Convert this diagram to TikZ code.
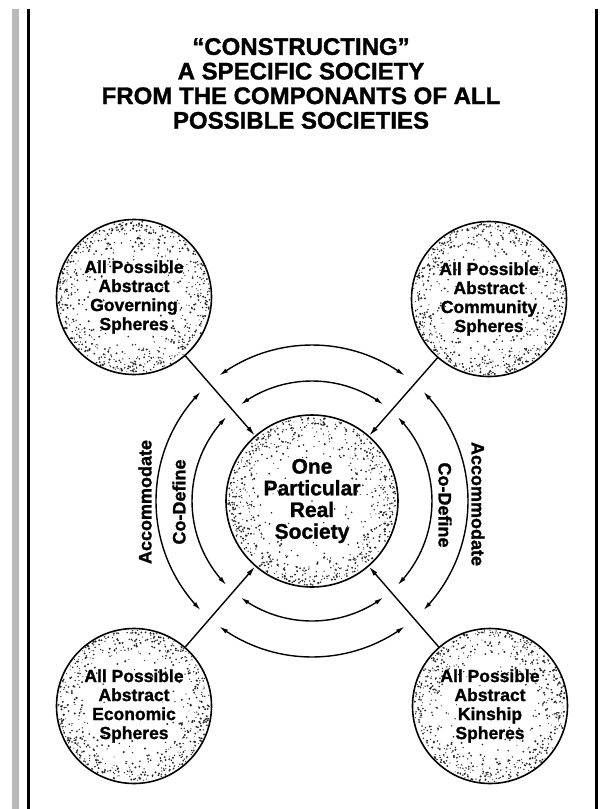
\documentclass[tikz,border=0pt]{standalone}
\usepackage{fontspec}
\setmainfont{Liberation Sans}[BoldFeatures={FakeBold=1.3}]
\usetikzlibrary{arrows.meta,bending}
\newcommand{\mystipple}[4]{%
  \foreach \k in {1,...,#4}{%
    \pgfmathsetmacro\rr{#3*pow(rnd,0.17)}%
    \pgfmathsetmacro\aa{360*rnd}%
    \pgfmathsetmacro\ss{0.5+0.65*rnd}%
    \fill[black!85] (#1,#2) ++(\aa:\rr pt) circle[radius=\ss pt];
  }}
\begin{document}
\begin{tikzpicture}[x=1pt,y=1pt,
  sph/.style={circle, draw, line width=1.6pt, minimum size=155pt, inner sep=0pt, align=center,
    font=\fontsize{17.5}{19}\selectfont\bfseries},
  bigsph/.style={sph, minimum size=172pt, font=\fontsize{21}{21.7}\selectfont\bfseries},
  ttl/.style={align=center, inner sep=0pt, font=\fontsize{24}{24.6}\selectfont\bfseries},
  lbl/.style={inner sep=0pt, font=\fontsize{18}{19}\selectfont\bfseries},
  feed/.style={line width=1.4pt, -{Latex[length=10pt,width=5pt]}},
  dblarc/.style={line width=1.4pt, {Latex[length=9pt,width=4.5pt,flex]}-{Latex[length=9pt,width=4.5pt,flex]}},
  frameline/.style={line width=2.2pt}
]
\useasboundingbox (0,0) rectangle (601,-809);
% frame
\fill[gray!55] (12,-9) rectangle (19,-809);
\draw[frameline] (28.5,-9) -- (28.5,-809);
\draw[frameline] (596.5,-9) -- (596.5,-809);
% title
\node[ttl] (title) at (301,-83.5) {“CONSTRUCTING”\\A SPECIFIC SOCIETY\\FROM THE COMPONANTS OF ALL\\POSSIBLE SOCIETIES};
% stippling
\pgfmathsetseed{4711}
\mystipple{134}{-297}{76}{650}
\mystipple{489}{-299}{76}{650}
\mystipple{134}{-706}{76}{650}
\mystipple{490}{-706}{76}{650}
\mystipple{312}{-501}{84}{780}
% spheres
\node[sph] (G) at (134,-297) {All Possible\\Abstract\\Governing\\Spheres};
\node[sph] (M) at (489,-299) {All Possible\\Abstract\\Community\\Spheres};
\node[sph] (E) at (134,-706) {All Possible\\Abstract\\Economic\\Spheres};
\node[sph] (K) at (490,-706) {All Possible\\Abstract\\Kinship\\Spheres};
\node[bigsph] (C) at (312,-501) {One\\Particular\\Real\\Society};
% connectors
\draw[feed] (G) -- (C);
\draw[feed] (M) -- (C);
\draw[feed] (E) -- (C);
\draw[feed] (K) -- (C);
% arcs
\foreach \r in {120,156}{
  \draw[dblarc] ([shift={(53.5:\r pt)}]C.center) arc[start angle=53.5, end angle=126.5, radius=\r pt];
  \draw[dblarc] ([shift={(135.5:\r pt)}]C.center) arc[start angle=135.5, end angle=224.5, radius=\r pt];
  \draw[dblarc] ([shift={(233.5:\r pt)}]C.center) arc[start angle=233.5, end angle=306.5, radius=\r pt];
  \draw[dblarc] ([shift={(-44.5:\r pt)}]C.center) arc[start angle=-44.5, end angle=44.5, radius=\r pt];
}
% labels
\node[lbl, rotate=90] (accL) at (145,-502) {Accommodate};
\node[lbl, rotate=90] (coL) at (179,-502) {Co-Define};
\node[lbl, rotate=-90] (accR) at (478,-504) {Accommodate};
\node[lbl, rotate=-90] (coR) at (445,-505) {Co-Define};
\end{tikzpicture}
\end{document}
